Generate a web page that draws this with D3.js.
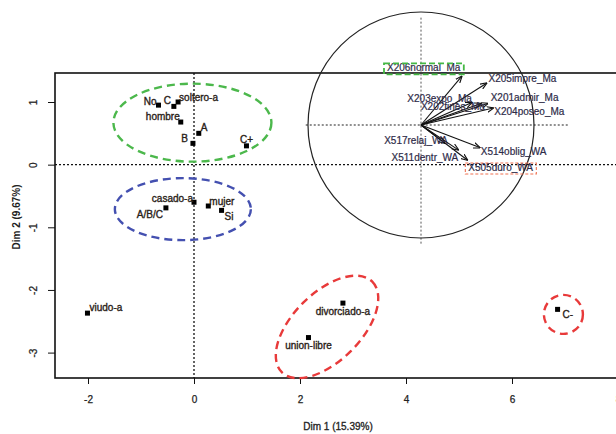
<!DOCTYPE html>
<html>
<head>
<meta charset="utf-8">
<script src="https://cdn.jsdelivr.net/npm/d3@7"></script>
<style>
  html, body { margin: 0; padding: 0; background: #fff; }
  svg text { font-family: "Liberation Sans", Arial, sans-serif; }
</style>
</head>
<body>
<svg id="chart" width="616" height="434"></svg>
<script>
// ---- data (MCA individual/category map) ----
const categories = ["No", "C", "soltero-a", "hombre", "A", "B", "C+",
  "casado-a", "A/B/C", "mujer", "Si",
  "viudo-a", "divorciado-a", "union-libre", "C-"];
const dim1 = [-0.67, -0.38, -0.30, -0.25, 0.09, -0.02, 0.99,
  0.00, -0.53, 0.27, 0.52,
  -2.01, 2.81, 2.16, 6.86];
const dim2 = [0.95, 0.93, 1.00, 0.68, 0.50, 0.34, 0.30,
  -0.60, -0.69, -0.66, -0.73,
  -2.37, -2.21, -2.76, -2.31];

// variables (correlation circle inset)
const variables = ["X206normal_Ma", "X205impre_Ma", "X203expo_Ma", "X202fines_Ma",
  "X201admir_Ma", "X204poseo_Ma", "X514oblig_WA", "X505duro_WA",
  "X511dentr_WA", "X517relaj_WA"];
const varDim1 = [0.36, 0.58, 0.45, 0.53, 0.59, 0.64, 0.52, 0.41, 0.33, 0.21];
const varDim2 = [0.43, 0.37, 0.20, 0.19, 0.19, 0.15, -0.20, -0.31, -0.22, -0.16];

const xTicks = [-2, 0, 2, 4, 6, 8];
const yTicks = [-3, -2, -1, 0, 1];
const xTitle = "Dim 1 (15.39%)";
const yTitle = "Dim 2 (9.67%)";

// ---- layout / style (not data) ----
const catLabelPos = [ // [dx, dy, anchor]
  [-2, 0, "end"], [-3, -2, "end"], [1, -1, "start"], [-1, -2, "end"], [2, -2, "start"],
  [-5, -1, "end"], [0, -3, "middle"],
  [-1, 0, "end"], [-3, 10, "end"], [1, -1, "start"], [3, 10, "start"],
  [2, -2, "start"], [0, 12, "middle"], [0, 11, "middle"], [5, 9, "start"]
];
const varLabelPos = [
  [-38, -5, "middle"], [2, -1, "start"], [0, 0, "end"], [4, 6, "end"],
  [3, -3, "start"], [1, 7, "start"], [1, 7, "start"], [1, 11, "start"],
  [0, 11, "end"], [3, 1, "end"]
];

const svg = d3.select("#chart");
const x = d3.scaleLinear().domain([-2, 8]).range([88, 618]);
const y = d3.scaleLinear().domain([-3, 1]).range([352.6, 102]);
const box = {left: 55, top: 73, bottom: 378, right: 660};
const fmt = d => String(d);

// plot box
svg.append("rect")
  .attr("x", box.left).attr("y", box.top)
  .attr("width", box.right - box.left).attr("height", box.bottom - box.top)
  .attr("fill", "none").attr("stroke", "#111").attr("stroke-width", 1.6);

// zero reference lines
svg.append("line")
  .attr("x1", box.left).attr("x2", 616).attr("y1", y(0)).attr("y2", y(0))
  .attr("stroke", "#111").attr("stroke-width", 1.3).attr("stroke-dasharray", "2,2");
svg.append("line")
  .attr("x1", x(0)).attr("x2", x(0)).attr("y1", box.top).attr("y2", box.bottom)
  .attr("stroke", "#111").attr("stroke-width", 1.3).attr("stroke-dasharray", "2,2");

// axes
const gx = svg.append("g").attr("transform", `translate(0,${box.bottom})`)
  .call(d3.axisBottom(x).tickValues(xTicks).tickSize(6).tickPadding(12).tickFormat(fmt));
gx.select(".domain").remove();
gx.selectAll("text").attr("font-size", 10).attr("fill", "#222")
  .attr("stroke", "#222").attr("stroke-width", 0.25)
  .attr("font-family", "'Liberation Sans', Arial, sans-serif");
gx.selectAll("line").attr("stroke", "#111");

const gy = svg.append("g").attr("transform", `translate(${box.left},0)`)
  .call(d3.axisLeft(y).tickValues(yTicks).tickSize(7).tickFormat(fmt));
gy.select(".domain").remove();
gy.selectAll("line").attr("stroke", "#111");
gy.selectAll("text")
  .attr("x", null).attr("dy", "0.35em")
  .attr("transform", "translate(-22,0) rotate(-90)")
  .attr("text-anchor", "middle")
  .attr("font-size", 10).attr("fill", "#222")
  .attr("stroke", "#222").attr("stroke-width", 0.25)
  .attr("font-family", "'Liberation Sans', Arial, sans-serif");

// axis titles
svg.append("text").attr("x", 338).attr("y", 430).attr("text-anchor", "middle")
  .attr("font-size", 10).attr("fill", "#222").attr("stroke", "#222").attr("stroke-width", 0.3)
  .text(xTitle);
svg.append("text").attr("transform", "translate(20,217) rotate(-90)")
  .attr("text-anchor", "middle").attr("font-size", 10).attr("fill", "#222")
  .attr("font-weight", "bold").text(yTitle);

// annotation ellipses (centre in data units, radii in px)
const groups = [
  {cx: -0.03, cy: 0.67, rx: 79, ry: 39, rot: 0, color: "#4cb84c"},
  {cx: -0.21, cy: -0.71, rx: 68, ry: 31, rot: 0, color: "#4450b0"},
  {cx: 2.51, cy: -2.59, rx: 64, ry: 34, rot: -45, color: "#e83a3a"},
  {cx: 6.97, cy: -2.39, rx: 19.5, ry: 19.5, rot: 0, color: "#e83a3a"}
];
svg.selectAll("ellipse.grp").data(groups).join("ellipse")
  .attr("class", "grp")
  .attr("transform", d => `translate(${x(d.cx)},${y(d.cy)}) rotate(${d.rot})`)
  .attr("rx", d => d.rx).attr("ry", d => d.ry)
  .attr("fill", "none").attr("stroke", d => d.color)
  .attr("stroke-width", 2.4).attr("stroke-dasharray", "8,5");

// category points
const pts = categories.map((c, i) => ({name: c, x: dim1[i], y: dim2[i], pos: catLabelPos[i]}));
svg.selectAll("rect.pt").data(pts).join("rect")
  .attr("class", "pt")
  .attr("x", d => x(d.x) - 2.5).attr("y", d => y(d.y) - 2.5)
  .attr("width", 5).attr("height", 5).attr("fill", "#000");
svg.selectAll("text.pt").data(pts).join("text")
  .attr("class", "pt")
  .attr("x", d => x(d.x) + d.pos[0]).attr("y", d => y(d.y) + d.pos[1])
  .attr("text-anchor", d => d.pos[2])
  .attr("font-size", 10).attr("fill", "#2a2218")
  .attr("stroke", "#2a2218").attr("stroke-width", 0.35)
  .text(d => d.name);

// ---- correlation circle inset ----
const inset = {cx: 421, cy: 125, r: 113};
const rx = d3.scaleLinear().domain([-1, 1]).range([inset.cx - inset.r, inset.cx + inset.r]);
const ry = d3.scaleLinear().domain([-1, 1]).range([inset.cy + inset.r, inset.cy - inset.r]);

svg.append("circle").attr("cx", rx(0)).attr("cy", ry(0)).attr("r", inset.r)
  .attr("fill", "none").attr("stroke", "#222").attr("stroke-width", 1.2);
svg.append("line").attr("x1", rx(-1.02)).attr("x2", rx(1.31)).attr("y1", ry(0)).attr("y2", ry(0))
  .attr("stroke", "#222").attr("stroke-width", 1.2).attr("stroke-dasharray", "2,2");
svg.append("line").attr("x1", rx(0)).attr("x2", rx(0)).attr("y1", ry(0.95)).attr("y2", ry(-1.05))
  .attr("stroke", "#444").attr("stroke-width", 0.9).attr("stroke-dasharray", "2,2");

svg.append("defs").append("marker")
  .attr("id", "arr").attr("viewBox", "0 0 10 10").attr("refX", 9).attr("refY", 5)
  .attr("markerWidth", 7).attr("markerHeight", 7).attr("orient", "auto")
  .attr("markerUnits", "userSpaceOnUse")
  .append("path").attr("d", "M0,1 L10,5 L0,9").attr("fill", "none")
  .attr("stroke", "#111").attr("stroke-width", 1.6);

const vars = variables.map((v, i) => ({name: v, x: varDim1[i], y: varDim2[i], pos: varLabelPos[i]}));
svg.selectAll("line.var").data(vars).join("line")
  .attr("class", "var")
  .attr("x1", rx(0)).attr("y1", ry(0))
  .attr("x2", d => rx(d.x)).attr("y2", d => ry(d.y))
  .attr("stroke", "#111").attr("stroke-width", 1.1)
  .attr("marker-end", "url(#arr)");
svg.selectAll("text.var").data(vars).join("text")
  .attr("class", "var")
  .attr("x", d => rx(d.x) + d.pos[0]).attr("y", d => ry(d.y) + d.pos[1])
  .attr("text-anchor", d => d.pos[2])
  .attr("font-size", 10).attr("fill", "#2e2b48")
  .attr("stroke", "#2e2b48").attr("stroke-width", 0.2)
  .text(d => d.name);

// highlight boxes around two variable labels
const hl = [
  {i: 0, color: "#44b844", w: 1.8, dash: "6,3"},
  {i: 7, color: "#f07050", w: 1.1, dash: "3,2"}
];
hl.forEach(h => {
  const t = svg.selectAll("text.var").filter((d, j) => j === h.i).node();
  const bb = t.getBBox();
  svg.append("rect")
    .attr("x", bb.x - 3).attr("y", bb.y + 1)
    .attr("width", bb.width + 6).attr("height", bb.height)
    .attr("fill", "none").attr("stroke", h.color)
    .attr("stroke-width", h.w).attr("stroke-dasharray", h.dash);
});
</script>
</body>
</html>
